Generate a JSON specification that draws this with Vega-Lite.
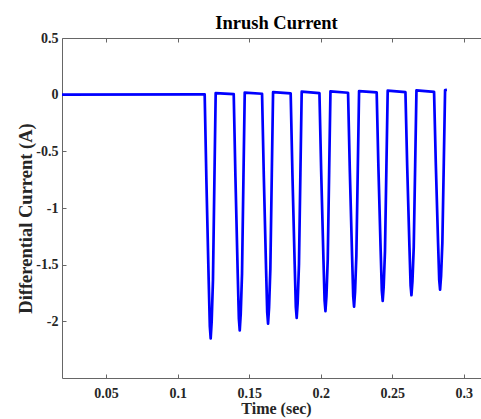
{
  "$schema": "https://vega.github.io/schema/vega-lite/v6.json",
  "autosize": {"type": "none"},
  "width": 419,
  "height": 340,
  "padding": {"left": 62, "top": 38, "right": 0, "bottom": 41},
  "background": "white",
  "title": {
    "text": "Inrush Current",
    "font": "Liberation Serif",
    "fontSize": 18.5,
    "fontWeight": "bold",
    "color": "#000000",
    "anchor": "middle",
    "frame": "group",
    "dx": 5,
    "dy": 25,
    "baseline": "alphabetic",
    "offset": 9
  },
  "config": {
    "view": {"stroke": null},
    "axis": {
      "grid": false,
      "domainColor": "#666666",
      "domainWidth": 1,
      "tickColor": "#666666",
      "tickSize": -4,
      "labelFont": "Liberation Serif",
      "labelFontSize": 14,
      "labelFontWeight": "bold",
      "labelColor": "#262626",
      "labelExpr": "toString(datum.value)",
      "titleFont": "Liberation Serif",
      "titleFontSize": 16,
      "titleFontWeight": "bold",
      "titleColor": "#262626"
    }
  },
  "data": {
    "values": [
      {"t": 0.0192, "i": 0.0},
      {"t": 0.115, "i": 0.002},
      {"t": 0.1189, "i": 0.003},
      {"t": 0.1201, "i": -0.753},
      {"t": 0.1217, "i": -1.634},
      {"t": 0.1225, "i": -2.043},
      {"t": 0.1231, "i": -2.15},
      {"t": 0.1238, "i": -2.0},
      {"t": 0.1247, "i": -1.634},
      {"t": 0.1257, "i": -0.753},
      {"t": 0.1266, "i": 0.014},
      {"t": 0.1392, "i": 0.004},
      {"t": 0.1404, "i": -0.728},
      {"t": 0.142, "i": -1.581},
      {"t": 0.1428, "i": -1.976},
      {"t": 0.1434, "i": -2.08},
      {"t": 0.1441, "i": -1.934},
      {"t": 0.145, "i": -1.581},
      {"t": 0.146, "i": -0.728},
      {"t": 0.1469, "i": 0.018},
      {"t": 0.159, "i": 0.008},
      {"t": 0.1602, "i": -0.707},
      {"t": 0.1618, "i": -1.535},
      {"t": 0.1626, "i": -1.919},
      {"t": 0.1632, "i": -2.02},
      {"t": 0.1639, "i": -1.879},
      {"t": 0.1648, "i": -1.535},
      {"t": 0.1658, "i": -0.707},
      {"t": 0.1667, "i": 0.022},
      {"t": 0.179, "i": 0.011},
      {"t": 0.1802, "i": -0.69},
      {"t": 0.1818, "i": -1.497},
      {"t": 0.1826, "i": -1.872},
      {"t": 0.1832, "i": -1.97},
      {"t": 0.1839, "i": -1.832},
      {"t": 0.1848, "i": -1.497},
      {"t": 0.1858, "i": -0.69},
      {"t": 0.1867, "i": 0.026},
      {"t": 0.1991, "i": 0.014},
      {"t": 0.2003, "i": -0.669},
      {"t": 0.2019, "i": -1.452},
      {"t": 0.2027, "i": -1.815},
      {"t": 0.2033, "i": -1.91},
      {"t": 0.204, "i": -1.776},
      {"t": 0.2049, "i": -1.452},
      {"t": 0.2059, "i": -0.669},
      {"t": 0.2068, "i": 0.029},
      {"t": 0.2191, "i": 0.017},
      {"t": 0.2203, "i": -0.655},
      {"t": 0.2219, "i": -1.421},
      {"t": 0.2227, "i": -1.777},
      {"t": 0.2233, "i": -1.87},
      {"t": 0.224, "i": -1.739},
      {"t": 0.2249, "i": -1.421},
      {"t": 0.2259, "i": -0.655},
      {"t": 0.2268, "i": 0.032},
      {"t": 0.2391, "i": 0.02},
      {"t": 0.2403, "i": -0.637},
      {"t": 0.2419, "i": -1.383},
      {"t": 0.2427, "i": -1.729},
      {"t": 0.2433, "i": -1.82},
      {"t": 0.244, "i": -1.693},
      {"t": 0.2449, "i": -1.383},
      {"t": 0.2459, "i": -0.637},
      {"t": 0.2468, "i": 0.035},
      {"t": 0.2592, "i": 0.022},
      {"t": 0.2604, "i": -0.62},
      {"t": 0.262, "i": -1.345},
      {"t": 0.2628, "i": -1.682},
      {"t": 0.2634, "i": -1.77},
      {"t": 0.2641, "i": -1.646},
      {"t": 0.265, "i": -1.345},
      {"t": 0.266, "i": -0.62},
      {"t": 0.2669, "i": 0.038},
      {"t": 0.2792, "i": 0.025},
      {"t": 0.2804, "i": -0.602},
      {"t": 0.282, "i": -1.307},
      {"t": 0.2828, "i": -1.634},
      {"t": 0.2834, "i": -1.72},
      {"t": 0.2841, "i": -1.6},
      {"t": 0.285, "i": -1.307},
      {"t": 0.286, "i": -0.602},
      {"t": 0.2869, "i": 0.04},
      {"t": 0.2882, "i": 0.042}
    ]
  },
  "layer": [
    {
      "mark": {"type": "line", "color": "#0000ff", "strokeWidth": 2.7, "clip": true, "strokeJoin": "round"},
      "encoding": {
        "x": {
          "field": "t", "type": "quantitative",
          "scale": {"domain": [0.0192, 0.312], "nice": false, "zero": false},
          "axis": {
            "values": [0.05, 0.1, 0.15, 0.2, 0.25, 0.3],
            "title": "Time (sec)",
            "labelPadding": 12,
            "titleX": 214,
            "titleY": 35,
            "titleBaseline": "alphabetic"
          }
        },
        "y": {
          "field": "i", "type": "quantitative",
          "scale": {"domain": [-2.5, 0.5], "nice": false, "zero": false},
          "axis": {
            "values": [-2, -1.5, -1, -0.5, 0, 0.5],
            "title": "Differential Current (A)",
            "titleFontSize": 18.5,
            "labelPadding": 8,
            "titleX": -31,
            "titleY": 180,
            "titleBaseline": "alphabetic"
          }
        }
      }
    },
    {
      "mark": {"type": "line", "opacity": 0},
      "encoding": {
        "x": {
          "field": "t", "type": "quantitative",
          "scale": {"domain": [0.0192, 0.312], "nice": false, "zero": false},
          "axis": {"orient": "top", "values": [0.05, 0.1, 0.15, 0.2, 0.25, 0.3], "labels": false, "title": null}
        },
        "y": {"field": "i", "type": "quantitative"}
      }
    }
  ],
  "resolve": {"axis": {"x": "independent"}}
}
